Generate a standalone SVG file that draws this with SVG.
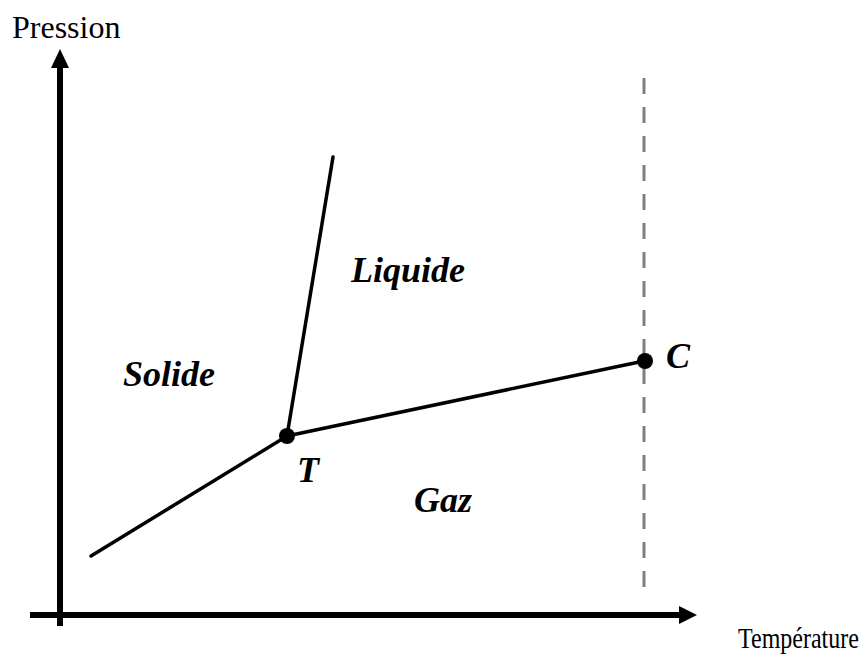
<svg xmlns="http://www.w3.org/2000/svg" width="867" height="662" viewBox="0 0 867 662">
<style>
.ax{stroke:#000;stroke-width:6;fill:none}
.ln{stroke:#000;stroke-width:3.5;fill:none;stroke-linecap:round}
.lab{font-family:"Liberation Serif",serif;font-size:32px;fill:#000}
.lab2{font-family:"Liberation Serif",serif;font-size:24px;fill:#000}
.ph{font-family:"Liberation Serif",serif;font-size:36px;font-weight:bold;font-style:italic;fill:#000}
</style>
<rect width="867" height="662" fill="#fff"/>
<g id="axes">
<line class="ax" x1="60" y1="64" x2="60" y2="626"/>
<polygon points="60,49 51,68 69,68" fill="#000"/>
<line class="ax" x1="30" y1="615" x2="682" y2="615"/>
<polygon points="697,615 679,606 679,624" fill="#000"/>
<text class="lab" x="12" y="38">Pression</text>
<text class="lab2" transform="translate(738,648) scale(1,1.2)" x="0" y="0">Température</text>
</g>
<g id="connectors">
<line x1="644" y1="78" x2="644" y2="600" stroke="#808080" stroke-width="3" stroke-dasharray="16,13"/>
<line class="ln" x1="91" y1="556" x2="287" y2="436"/>
<line class="ln" x1="287" y1="436" x2="333" y2="157"/>
<line class="ln" x1="287" y1="436" x2="644" y2="361"/>
</g>
<g id="T"><circle cx="287" cy="436" r="8" fill="#000"/><text class="ph" x="297" y="482">T</text></g>
<g id="C"><circle cx="645" cy="361" r="8" fill="#000"/><text class="ph" x="666" y="368">C</text></g>
<g id="liquide"><text class="ph" x="351" y="282">Liquide</text></g>
<g id="solide"><text class="ph" x="123" y="386">Solide</text></g>
<g id="gaz"><text class="ph" x="414" y="512">Gaz</text></g>
</svg>
